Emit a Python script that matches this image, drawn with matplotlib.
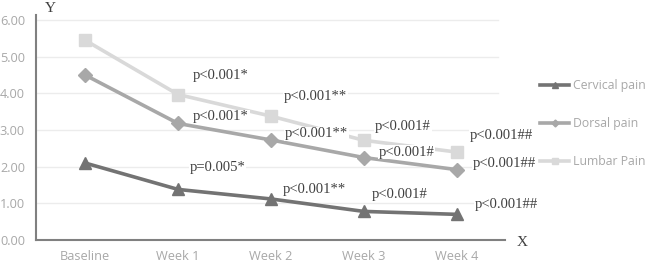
import matplotlib.pyplot as plt

weeks = ['Baseline', 'Week 1', 'Week 2', 'Week 3', 'Week 4']
cervical = [2.10, 1.38, 1.12, 0.78, 0.70]
dorsal = [4.50, 3.18, 2.73, 2.25, 1.92]
lumbar = [5.45, 3.97, 3.38, 2.72, 2.40]

# p-value labels per series (week 1..4)
p_cervical = ['p=0.005*', 'p<0.001**', 'p<0.001#', 'p<0.001##']
p_dorsal = ['p<0.001*', 'p<0.001**', 'p<0.001#', 'p<0.001##']
p_lumbar = ['p<0.001*', 'p<0.001**', 'p<0.001#', 'p<0.001##']

fig = plt.figure(figsize=(6.5, 2.63), dpi=100)
ax = fig.add_axes([36/650, 23/263, 469/650, 225/263])

x = list(range(len(weeks)))
c_cer, c_dor, c_lum = '#737373', '#a8a8a8', '#d9d9d9'
ax.plot(x, cervical, color=c_cer, lw=2.6, marker='^', ms=9, label='Cervical pain', zorder=3)
ax.plot(x, dorsal, color=c_dor, lw=2.6, marker='D', ms=7, label='Dorsal pain', zorder=3)
ax.plot(x, lumbar, color=c_lum, lw=2.6, marker='s', ms=9, label='Lumbar Pain', zorder=3)

ax.set_xlim(-0.53, 4.52)
ax.set_ylim(0, 6.14)
ax.set_yticks([0, 1, 2, 3, 4, 5, 6])
ax.set_yticklabels(['%.2f' % v for v in [0, 1, 2, 3, 4, 5, 6]])
ax.set_xticks(x)
ax.set_xticklabels(weeks)
for v in [1, 2, 3, 4, 5, 6]:
    ax.plot([-0.53, 4.45], [v, v], color='#ececec', lw=1, zorder=0)
for s in ['top', 'right']:
    ax.spines[s].set_visible(False)
ax.spines['left'].set_color('#808080')
ax.spines['bottom'].set_color('#808080')
ax.spines['left'].set_linewidth(1.5)
ax.spines['bottom'].set_linewidth(1.5)
ax.tick_params(length=0, colors='#a8a8a8', labelsize=9.2, pad=7)
for t in ax.get_xticklabels() + ax.get_yticklabels():
    t.set_family('Open Sans')
ax.tick_params(axis='y', pad=8)

# annotation offsets (data coords, left aligned)
offs_cer = [(0.12, 0.61), (0.13, 0.27), (0.08, 0.45), (0.19, 0.26)]
offs_dor = [(0.16, 0.18), (0.15, 0.17), (0.16, 0.15), (0.17, 0.18)]
offs_lum = [(0.16, 0.53), (0.14, 0.53), (0.12, 0.37), (0.14, 0.44)]
tkw = dict(fontsize=10.5, family='Liberation Serif', color='#404040', ha='left', va='center',
           bbox=dict(facecolor='white', edgecolor='none', pad=0.5), zorder=4)
for vals, labs, offs in [(cervical, p_cervical, offs_cer), (dorsal, p_dorsal, offs_dor),
                         (lumbar, p_lumbar, offs_lum)]:
    for i in range(4):
        ax.text(x[i + 1] + offs[i][0], vals[i + 1] + offs[i][1], labs[i], **tkw)

fig.text(45/650, 1 - 8/263, 'Y', family='Liberation Serif', fontsize=11, color='#404040', va='center')
fig.text(517/650, 1 - 242/263, 'X', family='Liberation Serif', fontsize=11, color='#404040', va='center')

leg = fig.legend(loc='upper left', bbox_to_anchor=(529/650, 1 - 68/263), frameon=False,
                 labelspacing=2.05, handlelength=2.4, handletextpad=0.3,
                 prop={'family': 'Open Sans', 'size': 8.8}, markerscale=0.5)
for t in leg.get_texts():
    t.set_color('#a8a8a8')

fig.savefig('out.png', dpi=100)
